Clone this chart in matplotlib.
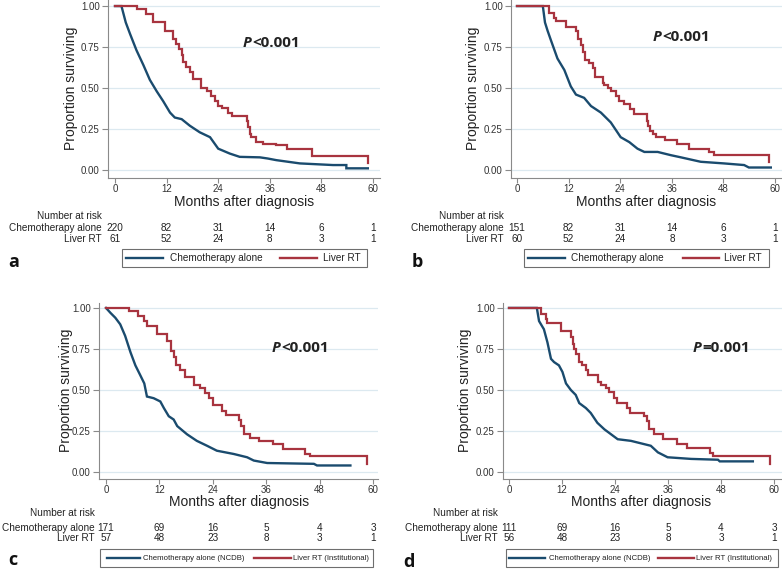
import matplotlib
matplotlib.use("Agg")
import matplotlib.pyplot as plt
from matplotlib.transforms import blended_transform_factory
from matplotlib.patches import Rectangle

plt.rcParams['font.family'] = ['Liberation Sans', 'DejaVu Sans']

# ---------------- data ----------------
months_ticks = [0, 12, 24, 36, 48, 60]
surv_ticks = [0.0, 0.25, 0.5, 0.75, 1.0]

# panel a
a_chemo_t = [0, 1.5, 2.5, 3.5, 5.0, 6.6, 8.1, 9.7, 11.2, 12.8, 13.9, 15.5, 17.4, 19.7, 22.1, 24.0,
             26.7, 29.0, 33.7, 35.5, 37.5, 43.0, 50.7, 53.8, 53.8, 58.8]
a_chemo_s = [1.0, 1.0, 0.90, 0.83, 0.73, 0.64, 0.55, 0.48, 0.42, 0.35, 0.32, 0.31, 0.27, 0.23, 0.20, 0.13,
             0.10, 0.08, 0.077, 0.07, 0.06, 0.04, 0.03, 0.03, 0.01, 0.01]
a_rt_t = [0, 5.0, 7.3, 8.9, 11.6, 13.5, 14.2, 14.9, 15.5, 15.9, 16.5, 17.4, 18.2, 20.1, 21.3, 22.4,
          23.3, 24.0, 24.8, 26.3, 27.1, 30.6, 31.0, 31.3, 31.7, 32.9, 34.4, 37.5, 39.9, 45.7, 58.8]
a_rt_s = [1.0, 0.98, 0.95, 0.90, 0.85, 0.80, 0.77, 0.74, 0.70, 0.66, 0.63, 0.60, 0.555, 0.50, 0.48, 0.45,
          0.42, 0.39, 0.38, 0.35, 0.33, 0.30, 0.26, 0.22, 0.20, 0.17, 0.16, 0.15, 0.13, 0.085, 0.045]

# panel b
b_chemo_t = [0, 6.0, 6.5, 7.1, 7.9, 9.4, 11.0, 12.5, 13.7, 15.6, 17.2, 19.5, 21.8, 24.1, 26.1, 28.0,
             29.6, 32.7, 35.8, 38.1, 42.7, 48.1, 52.8, 53.9, 59.0]
b_chemo_s = [1.0, 1.0, 0.90, 0.85, 0.79, 0.68, 0.61, 0.51, 0.46, 0.44, 0.39, 0.35, 0.29, 0.20, 0.17, 0.13,
             0.11, 0.11, 0.09, 0.077, 0.05, 0.04, 0.03, 0.015, 0.015]
b_rt_t = [0, 7.5, 8.7, 9.1, 11.4, 13.7, 14.1, 14.9, 15.3, 15.9, 16.8, 17.6, 18.1, 19.9, 20.3, 21.1,
          21.8, 23.0, 23.8, 24.9, 26.3, 27.2, 30.2, 30.4, 30.8, 31.5, 32.3, 34.4, 37.3, 39.9, 44.7, 45.8, 58.6]
b_rt_s = [1.0, 0.96, 0.93, 0.91, 0.87, 0.85, 0.80, 0.76, 0.72, 0.67, 0.65, 0.62, 0.57, 0.53, 0.52, 0.50,
          0.48, 0.45, 0.42, 0.40, 0.37, 0.34, 0.30, 0.27, 0.24, 0.22, 0.20, 0.18, 0.16, 0.13, 0.11, 0.09, 0.05]

# panel c
c_chemo_t = [0, 1.0, 2.1, 3.2, 4.3, 5.5, 6.6, 7.7, 8.6, 9.2, 10.7, 12.2, 13.0, 14.1, 15.2, 16.0,
             18.2, 20.4, 22.7, 24.9, 28.7, 31.7, 33.2, 36.2, 46.7, 47.4, 54.9]
c_chemo_s = [1.0, 0.97, 0.94, 0.90, 0.83, 0.73, 0.65, 0.59, 0.54, 0.46, 0.45, 0.43, 0.39, 0.34, 0.32, 0.28,
             0.23, 0.19, 0.16, 0.13, 0.11, 0.09, 0.07, 0.055, 0.05, 0.04, 0.04]
c_rt_t = [0, 5.1, 7.3, 8.5, 9.2, 11.5, 13.7, 14.5, 15.2, 15.7, 16.7, 17.7, 19.7, 21.2, 22.3, 23.1,
          24.0, 26.1, 27.0, 29.8, 30.4, 31.0, 32.3, 34.3, 37.5, 39.8, 44.6, 45.8, 58.7]
c_rt_s = [1.0, 0.98, 0.95, 0.92, 0.89, 0.84, 0.80, 0.74, 0.70, 0.65, 0.62, 0.58, 0.53, 0.51, 0.48, 0.45,
          0.41, 0.37, 0.35, 0.32, 0.28, 0.23, 0.21, 0.19, 0.17, 0.14, 0.11, 0.095, 0.05]

# panel d
d_chemo_t = [0, 6.3, 6.8, 7.9, 8.7, 9.5, 10.2, 11.3, 12.1, 12.9, 14.0, 15.1, 15.9, 17.4, 18.5, 20.0,
             21.6, 23.1, 24.6, 27.6, 30.6, 32.1, 33.7, 35.9, 41.2, 47.3, 47.7, 55.2]
d_chemo_s = [1.0, 1.0, 0.92, 0.87, 0.79, 0.69, 0.67, 0.65, 0.61, 0.54, 0.50, 0.47, 0.42, 0.39, 0.36, 0.30,
             0.26, 0.23, 0.20, 0.19, 0.17, 0.16, 0.12, 0.09, 0.08, 0.075, 0.065, 0.065]
d_rt_t = [0, 7.3, 8.3, 8.7, 11.7, 14.0, 14.4, 14.7, 15.1, 15.9, 16.6, 17.4, 17.8, 20.2, 20.8, 21.9,
          22.7, 23.7, 24.4, 26.7, 27.5, 30.6, 31.2, 31.8, 32.9, 34.8, 38.0, 40.3, 45.4, 46.1, 59.0]
d_rt_s = [1.0, 0.96, 0.93, 0.91, 0.86, 0.82, 0.78, 0.75, 0.72, 0.67, 0.65, 0.62, 0.59, 0.55, 0.53, 0.51,
          0.49, 0.45, 0.42, 0.39, 0.36, 0.34, 0.31, 0.26, 0.23, 0.20, 0.17, 0.145, 0.115, 0.10, 0.05]

# numbers at risk
a_risk_chemo = [220, 82, 31, 14, 6, 1]
a_risk_rt = [61, 52, 24, 8, 3, 1]
b_risk_chemo = [151, 82, 31, 14, 6, 1]
b_risk_rt = [60, 52, 24, 8, 3, 1]
c_risk_chemo = [171, 69, 16, 5, 4, 3]
c_risk_rt = [57, 48, 23, 8, 3, 1]
d_risk_chemo = [111, 69, 16, 5, 4, 3]
d_risk_rt = [56, 48, 23, 8, 3, 1]

p_values = ["<0.001", "<0.001", "<0.001", "=0.001"]
panel_letters = ["a", "b", "c", "d"]
legend_ab = ["Chemotherapy alone", "Liver RT"]
legend_cd = ["Chemotherapy alone (NCDB)", "Liver RT (Institutional)"]
row_labels = ["Chemotherapy alone", "Liver RT"]

# ---------------- style ----------------
BLUE = '#1a4b6e'
RED = '#a8343f'
GRID = '#dce9f0'
SPINE = '#8a8a8a'
TXT = '#333333'

W, H = 782, 575
fig = plt.figure(figsize=(W / 100, H / 100), dpi=100)
fig.patch.set_facecolor('white')

over = fig.add_axes([0, 0, 1, 1], zorder=5)
over.set_xlim(0, W)
over.set_ylim(H, 0)
over.axis('off')
over.patch.set_alpha(0)


def make_ax(l, t, r, b, xlim, ylim):
    ax = fig.add_axes([l / W, 1 - b / H, (r - l) / W, (b - t) / H])
    ax.set_xlim(*xlim)
    ax.set_ylim(*ylim)
    ax.set_xticks(months_ticks)
    ax.set_xticklabels([str(m) for m in months_ticks])
    ax.set_yticks(surv_ticks)
    ax.set_yticklabels([f"{v:.2f}" for v in surv_ticks])
    for s in ['top', 'right']:
        ax.spines[s].set_visible(False)
    for s in ['left', 'bottom']:
        ax.spines[s].set_color(SPINE)
        ax.spines[s].set_linewidth(0.8)
    ax.tick_params(axis='both', colors=SPINE, labelcolor=TXT, labelsize=7, width=0.8)
    ax.tick_params(axis='y', length=4.5, pad=1.5)
    ax.tick_params(axis='x', length=3.5, pad=0.8)
    ax.grid(axis='y', color=GRID, linewidth=0.9)
    ax.set_axisbelow(True)
    return ax


panels = [
    dict(box=(108, 0, 380, 178), xlim=(-1.63, 61.63), ylim=(-0.049, 1.037),
         chemo=(a_chemo_t, a_chemo_s), rt=(a_rt_t, a_rt_s), risk=(a_risk_chemo, a_risk_rt),
         label_x=102, risk_y=(216, 228, 239), xlab_y=202, ylab_x=71,
         leg=(122, 249, 367, 267), leg_items=(126, 163, 170, 280, 317, 323), leg_fs=7.2, leg_txt=legend_ab,
         p=(243, 43), letter=(8, 262)),
    dict(box=(511, 0, 782, 178), xlim=(-1.4, 61.6), ylim=(-0.049, 1.037),
         chemo=(b_chemo_t, b_chemo_s), rt=(b_rt_t, b_rt_s), risk=(b_risk_chemo, b_risk_rt),
         label_x=504, risk_y=(216, 228, 239), xlab_y=202, ylab_x=473,
         leg=(524, 249, 769, 267), leg_items=(528, 565, 571, 683, 719, 724), leg_fs=7.2, leg_txt=legend_ab,
         p=(653, 37), letter=(412, 262)),
    dict(box=(99, 303, 378, 478.6), xlim=(-1.57, 61.1), ylim=(-0.04, 1.03),
         chemo=(c_chemo_t, c_chemo_s), rt=(c_rt_t, c_rt_s), risk=(c_risk_chemo, c_risk_rt),
         label_x=95, risk_y=(513, 528, 538), xlab_y=502, ylab_x=66,
         leg=(100, 549, 373, 567), leg_items=(107, 140, 143, 254, 291, 293), leg_fs=5.6, leg_txt=legend_cd,
         p=(272, 348), letter=(8, 560)),
    dict(box=(503, 303, 782, 478.6), xlim=(-1.36, 61.8), ylim=(-0.04, 1.03),
         chemo=(d_chemo_t, d_chemo_s), rt=(d_rt_t, d_rt_s), risk=(d_risk_chemo, d_risk_rt),
         label_x=498, risk_y=(513, 528, 538), xlab_y=502, ylab_x=465,
         leg=(506, 549, 778, 567), leg_items=(509, 545, 549, 658, 694, 696), leg_fs=5.6, leg_txt=legend_cd,
         p=(693, 348), letter=(403, 562)),
]

for i, P in enumerate(panels):
    l, t, r, b = P['box']
    ax = make_ax(l, t, r, b, P['xlim'], P['ylim'])
    ax.plot(P['chemo'][0], P['chemo'][1], color=BLUE, lw=1.7, solid_joinstyle='miter')
    ax.plot(P['rt'][0], P['rt'][1], color=RED, lw=1.6, drawstyle='steps-post', solid_joinstyle='miter')

    # axis labels
    tx = blended_transform_factory(ax.transData, over.transData)
    ty = blended_transform_factory(over.transData, ax.transData)
    over.text(30, P['xlab_y'], "Months after diagnosis", transform=tx, ha='center', va='center',
              fontsize=10, color='#222222')
    over.text(P['ylab_x'], 0.5, "Proportion surviving", transform=ty, ha='center', va='center',
              rotation=90, fontsize=10, color='#222222')

    # number at risk table
    ry = P['risk_y']
    over.text(P['label_x'], ry[0], "Number at risk", ha='right', va='center', fontsize=7.2, color='#222222')
    for j, (lab, row) in enumerate(zip(row_labels, P['risk'])):
        over.text(P['label_x'], ry[j + 1], lab, ha='right', va='center', fontsize=7.2, color='#222222')
        for m, n in zip(months_ticks, row):
            over.text(m, ry[j + 1], str(n), transform=tx, ha='center', va='center',
                      fontsize=7.2, color='#222222')

    # legend box
    x0, y0, x1, y1 = P['leg']
    over.add_patch(Rectangle((x0, y0), x1 - x0, y1 - y0, fill=False, edgecolor='#6e6e6e', lw=0.8))
    yc = (y0 + y1) / 2
    bl0, bl1, bt, rl0, rl1, rtx = P['leg_items']
    over.plot([bl0, bl1], [yc, yc], color=BLUE, lw=1.7)
    over.text(bt, yc, P['leg_txt'][0], ha='left', va='center', fontsize=P['leg_fs'], color='#222222')
    over.plot([rl0, rl1], [yc, yc], color=RED, lw=1.7)
    over.text(rtx, yc, P['leg_txt'][1], ha='left', va='center', fontsize=P['leg_fs'], color='#222222')

    # p-value
    px, py = P['p']
    ptxt = over.text(px, py, "P", ha='left', va='center', fontsize=11, fontweight='bold',
                     fontstyle='italic', color='#222222', family=['Open Sans', 'DejaVu Sans'])
    over.annotate(p_values[i], xy=(1, 0), xycoords=ptxt, xytext=(0.6, 0), textcoords='offset points',
                  ha='left', va='bottom', fontsize=11,
                  fontweight='bold', color='#222222', family=['Open Sans', 'DejaVu Sans'])

    # panel letter
    lx, ly = P['letter']
    over.text(lx, ly, panel_letters[i], ha='left', va='center', fontsize=13, fontweight='bold',
              color='#111111', family=['Open Sans', 'DejaVu Sans'])

fig.savefig("out.png", dpi=100, facecolor='white')
